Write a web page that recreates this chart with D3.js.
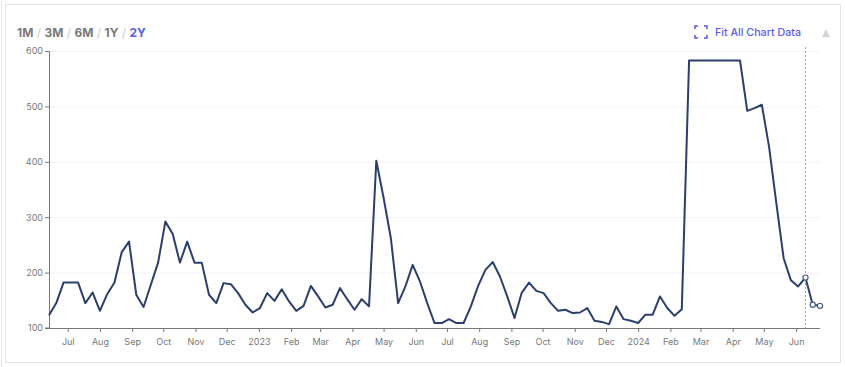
<!DOCTYPE html>
<html>
<head>
<meta charset="utf-8">
<script src="https://cdn.jsdelivr.net/npm/d3@7"></script>
<style>
  body { margin: 0; background: #fff; font-family: Inter, "Open Sans", sans-serif; }
  svg { display: block; }
  .axis text { fill: #777; font-size: 9px; font-family: Inter, sans-serif; }
  .axis path, .axis line { stroke: #777; }
  .grid line { stroke: #f2f2f2; }
  .grid path { display: none; }
</style>
</head>
<body>
<div id="chart"></div>
<script>
// Weekly series, first week starting 2022-06-13
var startDate = new Date(2022, 5, 13);
var values = [
  123, 145, 182, 182, 182, 145, 164, 131, 161, 182, 237, 256, 160, 138, 178, 218,
  292, 270, 218, 256, 218, 218, 160, 145, 181, 179, 163, 142, 128, 136, 163, 149,
  170, 148, 131, 140, 176, 157, 137, 142, 172, 152, 133, 152, 139, 402, 335, 262,
  145, 175, 214, 184, 145, 109, 109, 116, 109, 109, 139, 176, 205, 219, 193, 157,
  118, 164, 182, 167, 163, 145, 131, 133, 127, 128, 136, 113, 111, 107, 139, 116,
  113, 109, 124, 124, 157, 136, 122, 134, 583, 583, 583, 583, 583, 583, 583, 583,
  492, 497, 503, 427, 325, 226, 186, 175, 191, 142, 140
];
var rangeButtons = ["1M", "3M", "6M", "1Y", "2Y"];
var activeRange = "2Y";
var yTicks = [100, 200, 300, 400, 500, 600];
var markedPoints = 3; // hollow markers on the last points

var data = values.map((v, i) => ({ date: d3.timeDay.offset(startDate, 7 * i), value: v }));

var width = 845;
var height = 367;
var margins = { top: 51, right: 25, bottom: 39, left: 49 };
var chartWidth = width - margins.left - margins.right;
var chartHeight = height - margins.top - margins.bottom;

var svg = d3.select("#chart").append("svg").attr("width", width).attr("height", height);

// card frame
svg.append("line").attr("x1", 1.5).attr("x2", 1.5).attr("y1", 0).attr("y2", height)
  .attr("stroke", "#e6e6e6");
svg.append("rect").attr("x", 5.5).attr("y", 4.5).attr("width", 835).attr("height", 358)
  .attr("fill", "#fff").attr("stroke", "#e4e4e4");

// range buttons
var btnText = svg.append("text").attr("x", 17).attr("y", 37)
  .attr("font-size", 12).attr("font-weight", 700).attr("font-family", "Inter, sans-serif");
rangeButtons.forEach(function (b, i) {
  if (i > 0) btnText.append("tspan").text(" / ").attr("fill", "#ccc").attr("font-weight", 400);
  btnText.append("tspan").text(b).attr("fill", b === activeRange ? "#5b5bef" : "#7a7a7a");
});

// fit all chart data
var fit = svg.append("g").attr("transform", "translate(695,26)");
var br = "M0,3V0H3 M9,0H12V3 M12,9V12H9 M3,12H0V9";
fit.append("path").attr("d", br).attr("fill", "none").attr("stroke", "#5b5bef").attr("stroke-width", 1.6);
svg.append("text").attr("x", 715).attr("y", 36).text("Fit All Chart Data")
  .attr("font-size", 10.7).attr("font-weight", 500).attr("fill", "#5b5bef")
  .attr("font-family", "Inter, sans-serif");
svg.append("path").attr("d", "M822,37L826,29L830,37Z").attr("fill", "#d4d4d4");

var g = svg.append("g").attr("transform", `translate(${margins.left},${margins.top})`);

var xScale = d3.scaleTime()
  .domain(d3.extent(data, (d) => d.date))
  .range([0, chartWidth]);

var yScale = d3.scaleLinear().domain([100, 600]).range([chartHeight, 0]);

// grid
g.append("g").attr("class", "grid")
  .call(d3.axisLeft(yScale).tickValues(yTicks).tickSize(-chartWidth).tickFormat(""));

// axes
var fmt = (d) => d.getMonth() === 0 ? d3.timeFormat("%Y")(d) : d3.timeFormat("%b")(d);
g.append("g").attr("class", "x axis")
  .attr("transform", `translate(0,${chartHeight})`)
  .call(d3.axisBottom(xScale).ticks(d3.timeMonth.every(1)).tickFormat(fmt).tickSize(4).tickPadding(7))
  .call((a) => a.select(".domain").attr("d", `M0,0.5H${chartWidth}`));

g.append("g").attr("class", "y axis")
  .call(d3.axisLeft(yScale).tickValues(yTicks).tickSize(4).tickPadding(2))
  .call((a) => a.select(".domain").attr("d", `M-4,0.5H0.5V${chartHeight}H-4`).attr("stroke", "#666"));

// dashed marker line at the highlighted week
var hl = data[data.length - markedPoints];
g.append("line")
  .attr("x1", xScale(hl.date)).attr("x2", xScale(hl.date))
  .attr("y1", -4).attr("y2", chartHeight)
  .attr("stroke", "#999").attr("stroke-dasharray", "2,2");

// line
var line = d3.line().x((d) => xScale(d.date)).y((d) => yScale(d.value));
g.append("path").datum(data)
  .attr("fill", "none").attr("stroke", "#2b3f6c").attr("stroke-width", 2)
  .attr("stroke-linejoin", "round")
  .attr("d", line);

g.selectAll(".marker").data(data.slice(-markedPoints)).enter()
  .append("circle").attr("class", "marker")
  .attr("cx", (d) => xScale(d.date)).attr("cy", (d) => yScale(d.value))
  .attr("r", 2.6).attr("fill", "#fff").attr("stroke", "#4a5d88").attr("stroke-width", 1.2);
</script>
</body>
</html>
